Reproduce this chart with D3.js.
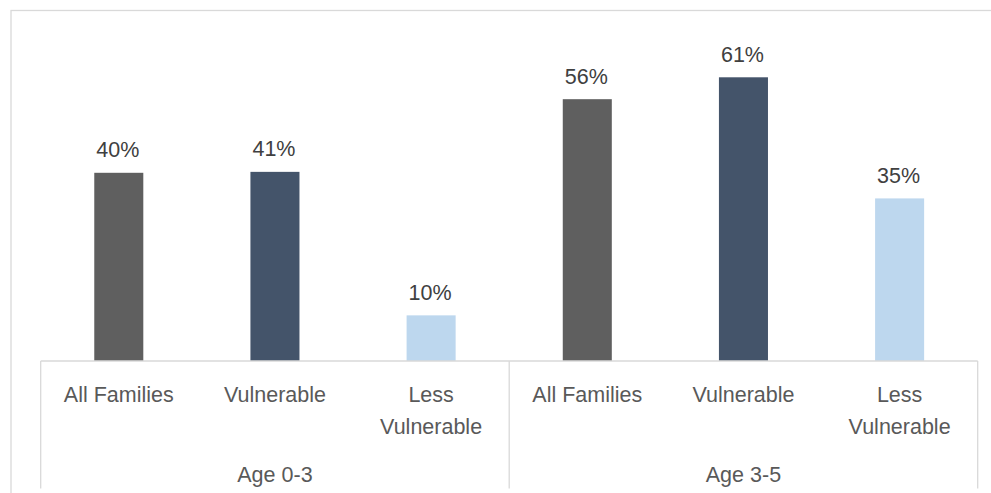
<!DOCTYPE html>
<html>
<head>
<meta charset="utf-8">
<script src="https://cdn.jsdelivr.net/npm/d3@7"></script>
<style>
  html, body { margin: 0; padding: 0; background: #ffffff; }
  svg { display: block; }
</style>
</head>
<body>
<svg id="chart" width="991" height="493"></svg>
<script>
// ---- Data ----
const groups = ["Age 0-3", "Age 3-5"];
const subcategories = ["All Families", "Vulnerable", "Less Vulnerable"];
const subLabelLines = [["All Families"], ["Vulnerable"], ["Less", "Vulnerable"]];
const age03Values = [40.4, 40.6, 9.8];
const age35Values = [56.2, 60.9, 34.9];
const barColors = ["#5f5f5f", "#44546a", "#bdd7ee"];
const yDomain = [0, 70];

// ---- Build rows ----
const seriesByGroup = [age03Values, age35Values];
const rows = [];
groups.forEach((g, gi) => {
  subcategories.forEach((s, si) => {
    rows.push({ key: g + "|" + s, group: g, sub: s, si: si, value: seriesByGroup[gi][si] });
  });
});

// ---- Layout ----
const svg = d3.select("#chart");
const W = 991, H = 493;
const plot = { left: 40.7, right: 977.7, top: 34.9, bottom: 361 };
const font = "'Liberation Sans', Arial, sans-serif";

// Outer frame
svg.append("rect")
  .attr("x", 11).attr("y", 10.5)
  .attr("width", 1000).attr("height", 520)
  .attr("fill", "none").attr("stroke", "#d9d9d9").attr("stroke-width", 1.3);

const x = d3.scaleBand().domain(rows.map(d => d.key)).range([plot.left, plot.right]).padding(0);
const xGroup = d3.scaleBand().domain(groups).range([plot.left, plot.right]).padding(0);
const y = d3.scaleLinear().domain(yDomain).range([plot.bottom, plot.top]);
const barW = x.bandwidth() * 0.314;

// Bars
svg.append("g").selectAll("rect").data(rows).join("rect")
  .attr("x", d => x(d.key) + (x.bandwidth() - barW) / 2)
  .attr("y", d => y(d.value))
  .attr("width", barW)
  .attr("height", d => y(0) - y(d.value))
  .attr("fill", d => barColors[d.si]);

// Value labels
svg.append("g").selectAll("text").data(rows).join("text")
  .attr("x", d => x(d.key) + x.bandwidth() / 2 - 1)
  .attr("y", d => y(d.value) - 15.6)
  .attr("text-anchor", "middle")
  .attr("font-family", font).attr("font-size", "21.5px")
  .attr("fill", "#404040")
  .text(d => Math.round(d.value) + "%");

// Axis line and dividers
const axisG = svg.append("g");
axisG.append("line")
  .attr("x1", plot.left).attr("x2", plot.right)
  .attr("y1", y(0)).attr("y2", y(0))
  .attr("stroke", "#d9d9d9").attr("stroke-width", 1.3);
const dividers = groups.map(g => xGroup(g)).concat([xGroup(groups[groups.length - 1]) + xGroup.bandwidth()]);
axisG.selectAll("line.div").data(dividers).join("line")
  .attr("class", "div")
  .attr("x1", d => d).attr("x2", d => d)
  .attr("y1", y(0)).attr("y2", 488.5)
  .attr("stroke", "#d9d9d9").attr("stroke-width", 1.3);

// Sub-category labels
const subG = svg.append("g").selectAll("text").data(rows).join("text")
  .attr("x", d => x(d.key) + x.bandwidth() / 2)
  .attr("y", 401.7)
  .attr("text-anchor", "middle")
  .attr("font-family", font).attr("font-size", "21.5px")
  .attr("fill", "#595959");
subG.selectAll("tspan").data(d => subLabelLines[d.si]).join("tspan")
  .attr("x", function() { return d3.select(this.parentNode).attr("x"); })
  .attr("dy", (d, i) => i === 0 ? 0 : 32)
  .text(d => d);

// Group labels
svg.append("g").selectAll("text").data(groups).join("text")
  .attr("x", d => xGroup(d) + xGroup.bandwidth() / 2)
  .attr("y", 481.7)
  .attr("text-anchor", "middle")
  .attr("font-family", font).attr("font-size", "21.5px")
  .attr("fill", "#595959")
  .text(d => d);
</script>
</body>
</html>
